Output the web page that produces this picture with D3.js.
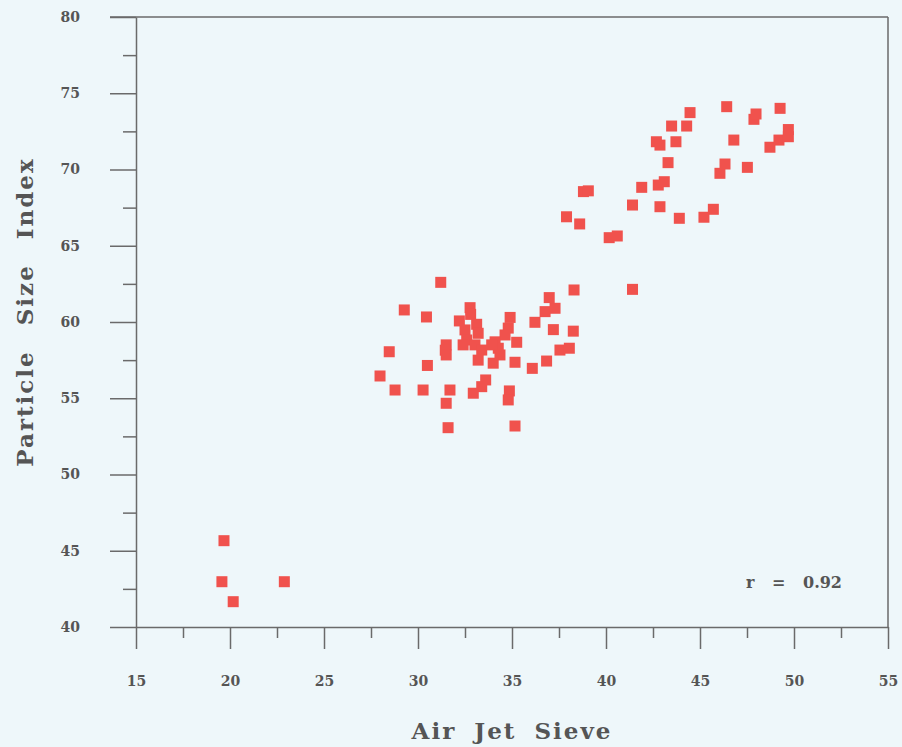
<!DOCTYPE html>
<html>
<head>
<meta charset="utf-8">
<script src="https://cdn.jsdelivr.net/npm/d3@7"></script>
<style>
  html, body { margin: 0; padding: 0; background: #eef7fa; }
  svg { display: block; }
</style>
</head>
<body>
<svg id="chart" width="902" height="747"></svg>
<script>
// Air Jet Sieve result (x) against Particle Size Index (y)
const airJetSieve = [
  19.68, 19.57, 20.17, 22.89,
  27.98, 28.47, 28.78, 29.27, 30.45, 30.5, 30.27, 31.21, 31.7, 31.5, 31.6, 31.5, 31.45, 31.5,
  32.77, 32.8, 32.2, 33.12, 32.5, 33.2, 32.59, 32.4, 33.03, 33.39, 33.2, 33.6, 33.39, 32.94,
  34.9, 34.8, 34.63, 35.25, 34.1, 34.27, 33.92, 34.36, 34.0, 35.16, 34.86, 34.8, 35.16,
  36.08, 36.84, 36.22, 36.76, 37.29, 36.98, 37.2, 38.26, 38.3, 37.55, 38.05,
  37.9, 38.6, 38.8, 39.06, 40.17, 40.6, 41.41, 41.41, 41.9, 42.78, 42.87, 43.1, 43.3,
  42.68, 42.87, 43.72, 43.49, 44.29, 44.47, 43.9, 45.21, 45.71, 46.06, 46.33, 46.8,
  46.42, 47.52, 47.87, 47.98, 48.72, 49.2, 49.7, 49.7, 49.26
];
const particleSizeIndex = [
  45.66, 42.97, 41.66, 42.97,
  56.46, 58.05, 55.54, 60.79, 60.33, 57.15, 55.54, 62.6, 55.54, 54.67, 53.07, 58.5, 58.15, 57.84,
  60.94, 60.5, 60.07, 59.85, 59.48, 59.26, 58.82, 58.5, 58.5, 58.16, 57.5, 56.2, 55.76, 55.33,
  60.3, 59.6, 59.15, 58.67, 58.7, 58.28, 58.5, 57.84, 57.3, 57.36, 55.48, 54.89, 53.18,
  56.96, 57.44, 59.98, 60.68, 60.9, 61.6, 59.5, 59.4, 62.1, 58.16, 58.28,
  66.9, 66.43, 68.55, 68.6, 65.53, 65.64, 62.14, 67.67, 68.83, 68.98, 67.56, 69.2, 70.45,
  71.82, 71.6, 71.82, 72.85, 72.85, 73.73, 66.8, 66.87, 67.39, 69.75, 70.36, 71.93,
  74.12, 70.14, 73.29, 73.64, 71.46, 71.93, 72.15, 72.62, 74.01
];
const xMajorTicks = [15, 20, 25, 30, 35, 40, 45, 50, 55];
const yMajorTicks = [40, 45, 50, 55, 60, 65, 70, 75, 80];
const correlationLabel = "r = 0.92";

const svg = d3.select("#chart");
const plotLeft = 136, plotRight = 888, plotTop = 17, plotBottom = 627;
const axisColor = "#6a6a6a";
const textColor = "#555";
const labelFont = "'DejaVu Serif', serif";

const x = d3.scaleLinear().domain([15, 55]).range([plotLeft, plotRight]);
const y = d3.scaleLinear().domain([40, 80]).range([plotBottom, plotTop]);

// Frame: top and right borders
svg.append("line").attr("x1", plotLeft - 26).attr("x2", plotRight).attr("y1", plotTop).attr("y2", plotTop)
  .attr("stroke", axisColor).attr("stroke-width", 1.5);
svg.append("line").attr("x1", plotRight).attr("x2", plotRight).attr("y1", plotTop).attr("y2", plotBottom)
  .attr("stroke", axisColor).attr("stroke-width", 1.5);

// Bottom axis: long major ticks and short minor ticks, pointing outward
const xAxis = d3.axisBottom(x).tickValues(xMajorTicks).tickSize(22).tickPadding(27).tickSizeOuter(0);
svg.append("g").attr("transform", `translate(0,${plotBottom})`).call(xAxis);
const xMinor = d3.axisBottom(x).tickValues(d3.range(17.5, 55, 5)).tickSize(11).tickFormat("").tickSizeOuter(0);
const gxm = svg.append("g").attr("transform", `translate(0,${plotBottom})`).call(xMinor);
gxm.select(".domain").remove();

// Left axis
const yAxis = d3.axisLeft(y).tickValues(yMajorTicks).tickSize(26).tickPadding(30).tickSizeOuter(0);
svg.append("g").attr("transform", `translate(${plotLeft},0)`).call(yAxis);
const yMinor = d3.axisLeft(y).tickValues(d3.range(42.5, 80, 5)).tickSize(13).tickFormat("").tickSizeOuter(0);
const gym = svg.append("g").attr("transform", `translate(${plotLeft},0)`).call(yMinor);
gym.select(".domain").remove();

svg.selectAll(".domain").attr("stroke", axisColor).attr("stroke-width", 1.5);
svg.selectAll(".tick line").attr("stroke", axisColor).attr("stroke-width", 1.5);
svg.selectAll(".tick text")
  .attr("fill", textColor)
  .style("font-family", labelFont)
  .style("font-weight", "bold")
  .style("font-size", "14px");

// Points
const pts = d3.zip(airJetSieve, particleSizeIndex);
const s = 11;
svg.append("g").selectAll("rect").data(pts).join("rect")
  .attr("x", d => x(d[0]) - s / 2)
  .attr("y", d => y(d[1]) - s / 2)
  .attr("width", s).attr("height", s)
  .attr("fill", "#f0524d");

// Axis titles
svg.append("text")
  .attr("x", (plotLeft + plotRight) / 2).attr("y", 739)
  .attr("text-anchor", "middle")
  .attr("fill", textColor)
  .style("font-family", labelFont).style("font-weight", "bold")
  .style("font-size", "23px").style("letter-spacing", "2px").style("word-spacing", "8px")
  .text("Air Jet Sieve");

svg.append("text")
  .attr("transform", `translate(33,${(plotTop + plotBottom) / 2 - 10}) rotate(-90)`)
  .attr("text-anchor", "middle")
  .attr("fill", textColor)
  .style("font-family", labelFont).style("font-weight", "bold")
  .style("font-size", "23px").style("letter-spacing", "2px").style("word-spacing", "15px")
  .text("Particle Size Index");

// Correlation coefficient
svg.append("text")
  .attr("x", 842).attr("y", 588)
  .attr("text-anchor", "end")
  .attr("fill", textColor)
  .style("font-family", labelFont).style("font-weight", "bold")
  .style("font-size", "16px")
  .style("word-spacing", "12px")
  .text(correlationLabel);
</script>
</body>
</html>
